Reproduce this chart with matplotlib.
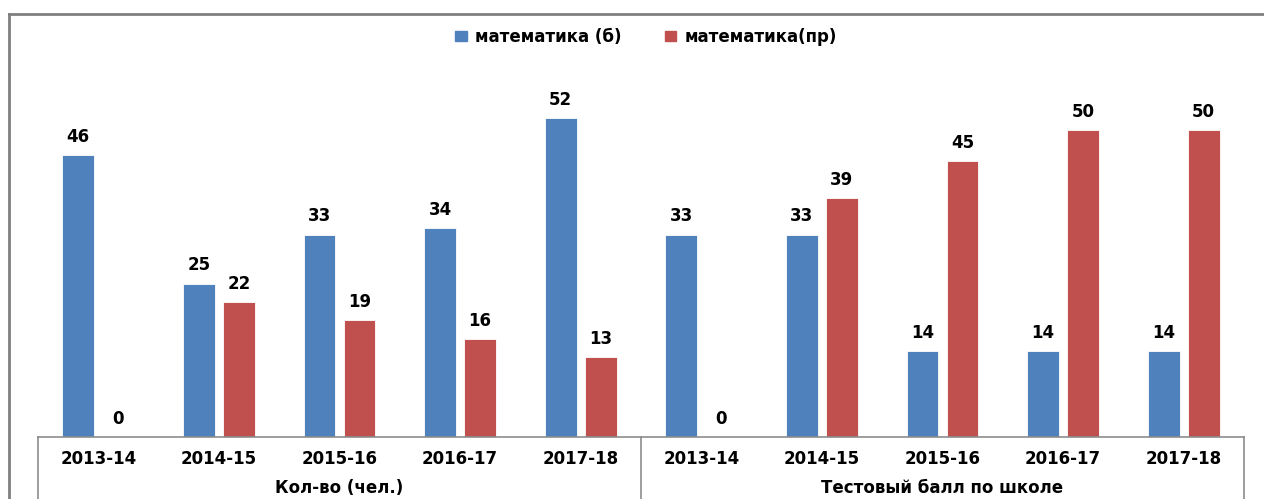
import numpy as np
import matplotlib.pyplot as plt
from matplotlib.lines import Line2D
from matplotlib.patches import Rectangle

years = ['2013-14', '2014-15', '2015-16', '2016-17', '2017-18']
groups = ['Кол-во (чел.)', 'Тестовый балл по школе']
series_names = ['математика (б)', 'математика(пр)']
math_base = [46, 25, 33, 34, 52, 33, 33, 14, 14, 14]
math_prof = [0, 22, 19, 16, 13, 0, 39, 45, 50, 50]
colors = ['#4F81BD', '#C0504D']

W, H = 1264, 499
x0, x1 = 38, 1244
cw = (x1 - x0) / 10
fig = plt.figure(figsize=(W / 100, H / 100), dpi=100)
ax = fig.add_axes([x0 / W, (H - 437) / H, (x1 - x0) / W, (437 - 69) / H])

n = len(math_base)
x = np.arange(n)
bw = 0.265
off = 0.166
fs = 12

for vals, dx, c in [(math_base, -off, colors[0]), (math_prof, off, colors[1])]:
    bars = ax.bar(x + dx, vals, width=bw, color=c, edgecolor='white', linewidth=0.6)
    for b, v in zip(bars, vals):
        ax.text(b.get_x() + b.get_width() / 2, v + 1.5, str(v), ha='center', va='bottom',
                fontsize=fs, fontweight='bold', color='black')

ax.set_xlim(-0.5, n - 0.5)
ax.set_ylim(0, 60)
ax.set_yticks([])
ax.set_xticks([])
for s in ['top', 'right', 'left']:
    ax.spines[s].set_visible(False)
ax.spines['bottom'].set_color('#8C8C8C')
ax.spines['bottom'].set_linewidth(1.2)

# two-level category labels
labels = years + years
for i, lab in enumerate(labels):
    fig.text((x0 + (i + 0.5) * cw) / W, (H - 459) / H, lab, ha='center', va='center',
             fontsize=fs, fontweight='bold')
for j, g in enumerate(groups):
    fig.text((x0 + (j * 5 + 2.5) * cw) / W, (H - 488) / H, g, ha='center', va='center',
             fontsize=fs, fontweight='bold')
for xp in [x0, x0 + 5 * cw, x1]:
    fig.add_artist(Line2D([xp / W, xp / W], [0, (H - 437) / H], color='#8C8C8C', lw=1.2))

# outer chart frame (cropped)
fig.add_artist(Line2D([9 / W, 9 / W], [0, (H - 14) / H], color='#808080', lw=2))
fig.add_artist(Line2D([9 / W, 1], [(H - 14) / H, (H - 14) / H], color='#808080', lw=2))

# legend
handles = [Rectangle((0, 0), 1, 1, color=c) for c in colors]
fig.legend(handles, series_names, loc='center', bbox_to_anchor=(646 / W, (H - 37) / H),
           ncol=2, frameon=False, prop={'size': fs, 'weight': 'bold'},
           handlelength=0.7, handleheight=0.5, handletextpad=0.5, columnspacing=2.6)

fig.savefig('out.png', dpi=100)
